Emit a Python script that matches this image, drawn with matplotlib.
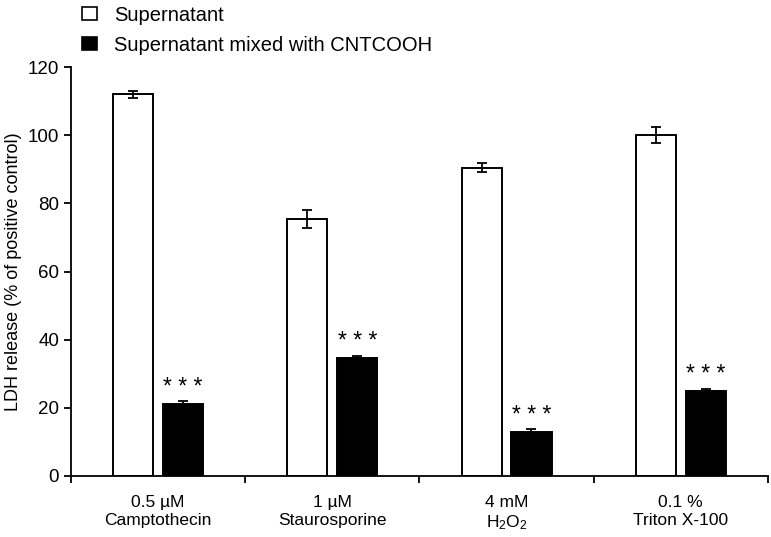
import numpy as np
import matplotlib.pyplot as plt
from matplotlib.patches import Patch

plt.rcParams['font.family'] = ['Liberation Sans', 'DejaVu Sans']
plt.rcParams['mathtext.fontset'] = 'custom'
plt.rcParams['mathtext.rm'] = 'Liberation Sans'
plt.rcParams['mathtext.it'] = 'Liberation Sans:italic'

categories = ['0.5 µM\nCamptothecin', '1 µM\nStaurosporine', '4 mM\nH$_2$O$_2$', '0.1 %\nTriton X-100']
supernatant = [112, 75.5, 90.5, 100]
supernatant_err = [1.0, 2.6, 1.3, 2.4]
mixed = [21.2, 34.6, 12.8, 24.9]
mixed_err = [0.9, 0.5, 1.0, 0.5]
signif = ['* * *', '* * *', '* * *', '* * *']

fig = plt.figure(figsize=(7.71, 5.37), dpi=100)
ax = fig.add_axes([0.092, 0.1136, 0.904, 0.7616])

x = np.arange(len(categories))
w = 0.23
off = 0.143
ekw = dict(elinewidth=1.3, capthick=1.3)
ax.bar(x - off, supernatant, w, color='white', edgecolor='black', linewidth=1.4,
       yerr=supernatant_err, capsize=3.3, error_kw=ekw)
ax.bar(x + off, mixed, w, color='black', edgecolor='black', linewidth=1.4,
       yerr=mixed_err, capsize=3.3, error_kw=ekw)

for xi, v, s in zip(x, mixed, signif):
    ax.text(xi + off, v + 3.0, s, ha='center', va='baseline', fontsize=16.5)

ax.set_xlim(-0.5, 3.5)
ax.set_ylim(0, 120)
ax.set_yticks(np.arange(0, 121, 20))
ax.set_xticks(x)
ax.set_xticklabels(categories, fontsize=12.5)
ax.set_xticks(np.arange(-0.5, 3.6, 1), minor=True)
ax.tick_params(axis='x', which='major', length=0, pad=14)
ax.tick_params(axis='x', which='minor', length=5, width=1.3, direction='out')
ax.tick_params(axis='y', length=5, width=1.3, direction='out', labelsize=13.5)
ax.set_ylabel('LDH release (% of positive control)', fontsize=13, labelpad=4)
for side in ['top', 'right']:
    ax.spines[side].set_visible(False)
for side in ['left', 'bottom']:
    ax.spines[side].set_linewidth(1.3)

handles = [Patch(facecolor='white', edgecolor='black', linewidth=1.2),
           Patch(facecolor='black', edgecolor='black', linewidth=1.2)]
fig.legend(handles, ['Supernatant', 'Supernatant mixed with CNTCOOH'],
           loc='upper left', bbox_to_anchor=(72 / 771, 1.008), frameon=False,
           borderpad=0, fontsize=14.5, handlelength=0.72, handleheight=0.62,
           handletextpad=0.85, labelspacing=0.55)

fig.savefig('out.png', dpi=100)
